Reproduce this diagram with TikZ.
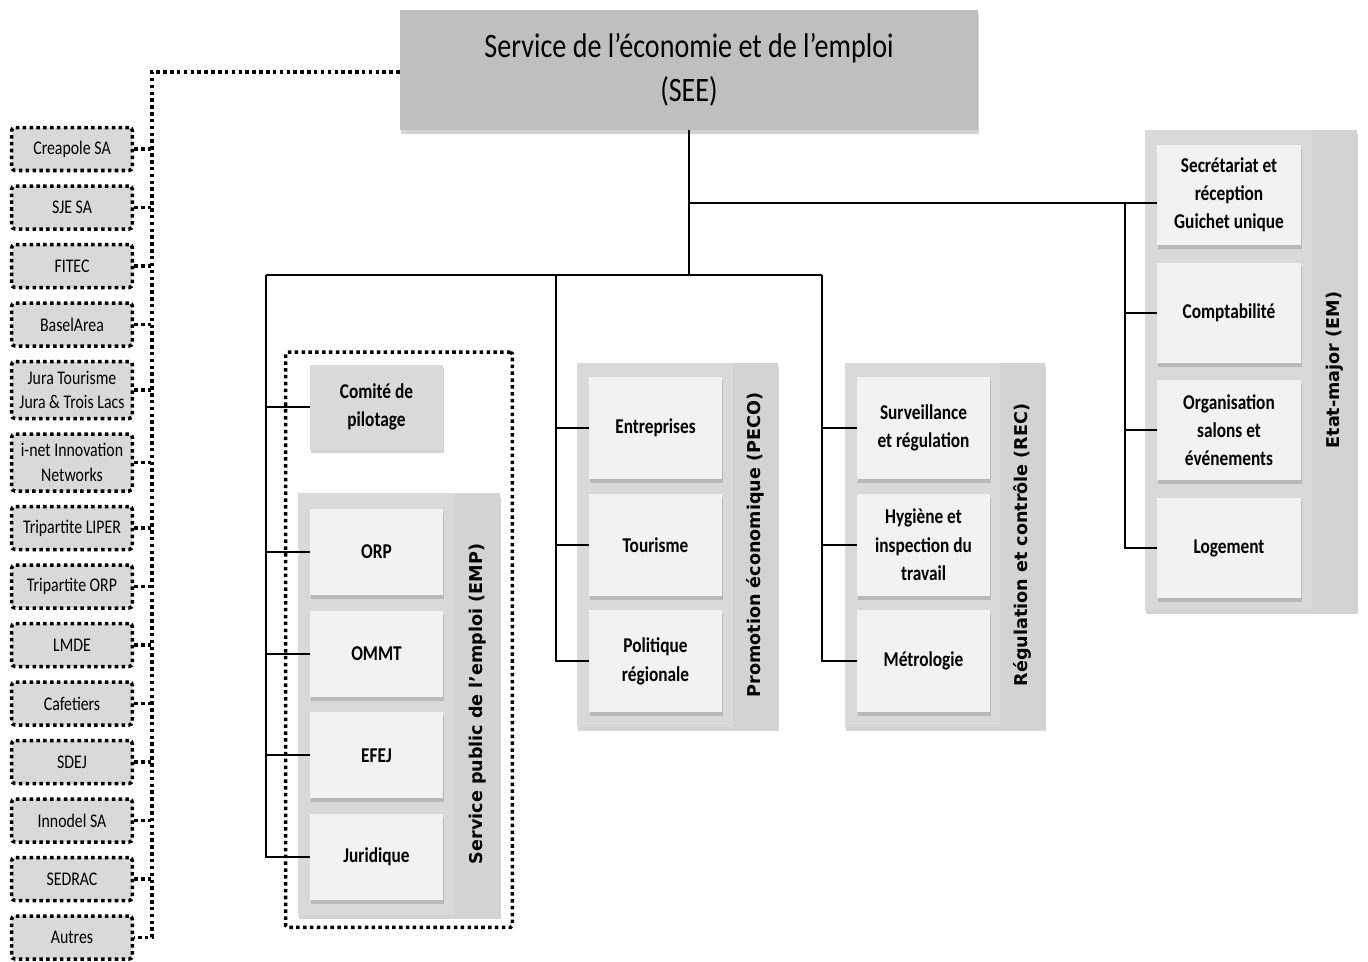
\documentclass[tikz,border=0pt]{standalone}
\usepackage{fontspec}
\setmainfont{Carlito}[FakeStretch=0.82]
\newfontfamily\stripfont{DejaVu Sans}
\usepackage{xcolor}
\usepackage{tikz}
\usetikzlibrary{positioning,
fit,
shadows,
calc}

\definecolor{topgray}{HTML}{BFBFBF}
\definecolor{panelgray}{HTML}{D9D9D9}
\definecolor{stripgray}{HTML}{D3D3D3}
\definecolor{unitgray}{HTML}{F2F2F2}

\begin{document}
\begin{tikzpicture}[
				x=0.02cm, y=-0.02cm,
				softshadow/.style={
					drop shadow={shadow xshift=0.4pt, shadow yshift=-2.2pt, opacity=0.35}
				},
				headbox/.style={
					fill=topgray,
					minimum width=11.56cm,
					minimum height=2.4cm,
					align=center,
					softshadow,
					font=\fontsize{19.5}{25}\selectfont
				},
				partner/.style={
					draw,
					dotline,
					fill=panelgray,
					rounded corners=2pt,
					minimum width=2.42cm,
					minimum height=0.86cm,
					inner sep=1pt,
					align=center,
					font=\fontsize{11}{14}\selectfont
				},
				tallpartner/.style={
					partner,
					minimum height=1.14cm
				},
				panel/.style={
					fill=panelgray,
					softshadow
				},
				strip/.style={
					fill=stripgray,
					rotate=90,
					minimum height=0.9cm,
					inner sep=0pt,
					font=\stripfont\bfseries\fontsize{10}{12}\selectfont
				},
				unit/.style={
					fill=unitgray,
					minimum width=2.66cm,
					align=center,
					softshadow,
					font=\bfseries\fontsize{12}{16}\selectfont
				},
				dotline/.style={
					line width=2pt,
					dash pattern=on 2pt off 1.9pt
				},
				tree/.style={
					line width=1.2pt
				}
				]
				\useasboundingbox (0,0) rectangle (1368,961);

				% head of the service
				\node[headbox] (see) at (689,70) {Service de l’économie et de l’emploi\\(SEE)};

				% partners on the left
				\node[partner] (crea) at (72,149) {Creapole SA};
				\node[partner, below=0.24cm of crea] (sjesa) {SJE SA};
				\node[partner, below=0.24cm of sjesa] (fitec) {FITEC};
				\node[partner, below=0.24cm of fitec] (basel) {BaselArea};
				\node[tallpartner, below=0.24cm of basel] (jura) {Jura Tourisme\\Jura \& Trois Lacs};
				\node[tallpartner, below=0.24cm of jura] (inet) {i-net Innovation\\Networks};
				\node[partner, below=0.24cm of inet] (liper) {Tripartite LIPER};
				\node[partner, below=0.24cm of liper] (torp) {Tripartite ORP};
				\node[partner, below=0.24cm of torp] (lmde) {LMDE};
				\node[partner, below=0.24cm of lmde] (cafe) {Cafetiers};
				\node[partner, below=0.24cm of cafe] (sdej) {SDEJ};
				\node[partner, below=0.24cm of sdej] (inno) {Innodel SA};
				\node[partner, below=0.24cm of inno] (sedrac) {SEDRAC};
				\node[partner, below=0.24cm of sedrac] (autres) {Autres};

				% panels with their side strips
				\node[panel, minimum width=4.04cm, minimum height=8.44cm] (emppanel) at (399,704) {};
				\node[strip, minimum width=8.44cm] (empstrip) at (477.5,704) {Service public de l’emploi (EMP)};
				\node[panel, minimum width=4.02cm, minimum height=7.28cm] (pecopanel) at (677.5,545) {};
				\node[strip, minimum width=7.28cm] (pecostrip) at (755.5,545) {Promotion économique (PECO)};
				\node[panel, minimum width=4.0cm, minimum height=7.28cm] (recpanel) at (945,545) {};
				\node[strip, minimum width=7.28cm] (recstrip) at (1022.5,545) {Régulation et contrôle (REC)};
				\node[panel, minimum width=4.24cm, minimum height=9.6cm] (empanel) at (1251,370) {};
				\node[strip, minimum width=9.6cm] (emstrip) at (1334.5,370) {Etat-major (EM)};

				% EMP
				\node[unit, fill=panelgray, minimum height=1.7cm] (comite) at (376.5,407) {Comité de\\pilotage};
				\node[unit, minimum height=1.72cm] (orp) at (376.5,552) {ORP};
				\node[unit, minimum height=1.72cm, below=0.3cm of orp] (ommt) {OMMT};
				\node[unit, minimum height=1.72cm, below=0.3cm of ommt] (efej) {EFEJ};
				\node[unit, minimum height=1.72cm, below=0.3cm of efej] (juri) {Juridique};

				% PECO
				\node[unit, minimum height=2.04cm] (entr) at (655.5,428) {Entreprises};
				\node[unit, minimum height=2.04cm, below=0.28cm of entr] (tour) {Tourisme};
				\node[unit, minimum height=2.04cm, below=0.28cm of tour] (poli) {Politique\\régionale};

				% REC
				\node[unit, minimum height=2.04cm] (surv) at (923.5,428) {Surveillance\\et régulation};
				\node[unit, minimum height=2.04cm, below=0.28cm of surv] (hyg) {Hygiène et\\inspection du\\travail};
				\node[unit, minimum height=2.04cm, below=0.28cm of hyg] (metro) {Métrologie};

				% EM
				\node[unit, minimum width=2.88cm, minimum height=2.0cm] (sec) at (1229,195) {Secrétariat et\\réception\\Guichet unique};
				\node[unit, minimum width=2.88cm, minimum height=2.0cm, below=0.34cm of sec] (compta) {Comptabilité};
				\node[unit, minimum width=2.88cm, minimum height=2.0cm, below=0.34cm of compta] (orga) {Organisation\\salons et\\événements};
				\node[unit, minimum width=2.88cm, minimum height=2.0cm, below=0.34cm of orga] (loge) {Logement};

				% organigram lines
				\coordinate (split) at (689,275);
				\coordinate (emjoin) at (689,203);
				\coordinate (empbus) at (266,275);
				\coordinate (pecobus) at (556,275);
				\coordinate (recbus) at (822,275);
				\coordinate (embus) at (1125,203);
				\draw[tree] (see.south) -- (split);
				\draw[tree] (emjoin) -- (emjoin -| sec.west);
				\draw[tree] (empbus) -- (recbus);
				\draw[tree] (empbus) |- (juri.west)
					(empbus |- comite.west) -- (comite.west)
					(empbus |- orp.west) -- (orp.west)
					(empbus |- ommt.west) -- (ommt.west)
					(empbus |- efej.west) -- (efej.west);
				\draw[tree] (pecobus) |- (poli.west)
					(pecobus |- entr.west) -- (entr.west)
					(pecobus |- tour.west) -- (tour.west);
				\draw[tree] (recbus) |- (metro.west)
					(recbus |- surv.west) -- (surv.west)
					(recbus |- hyg.west) -- (hyg.west);
				\draw[tree] (embus) |- (loge.west)
					(embus |- compta.west) -- (compta.west)
					(embus |- orga.west) -- (orga.west);

				% dotted frame round the employment service
				\node[draw, dotline, rounded corners=1pt, inner sep=0.24cm, fit=(comite)(emppanel)] (empgroup) {};

				% partner links
				\coordinate (bus) at (152,72);
				\draw[dotline] (see.west |- bus) -- (bus) -- (bus |- autres.east) -- (autres.east);
				\draw[dotline] (crea.east) -- (bus |- crea.east)
					(sjesa.east) -- (bus |- sjesa.east)
					(fitec.east) -- (bus |- fitec.east)
					(basel.east) -- (bus |- basel.east)
					(jura.east) -- (bus |- jura.east)
					(inet.east) -- (bus |- inet.east)
					(liper.east) -- (bus |- liper.east)
					(torp.east) -- (bus |- torp.east)
					(lmde.east) -- (bus |- lmde.east)
					(cafe.east) -- (bus |- cafe.east)
					(sdej.east) -- (bus |- sdej.east)
					(inno.east) -- (bus |- inno.east)
					(sedrac.east) -- (bus |- sedrac.east);
			\end{tikzpicture}
\end{document}
